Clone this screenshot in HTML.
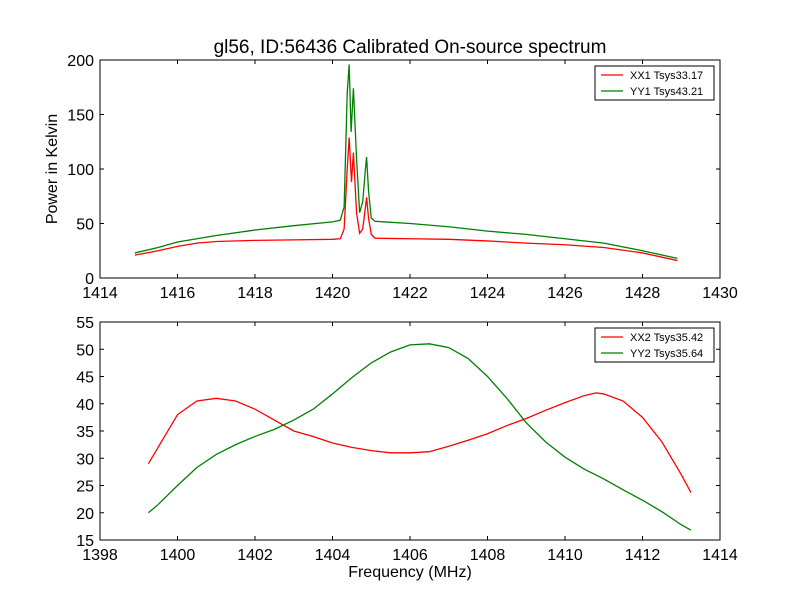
<!DOCTYPE html>
<html><head><meta charset="utf-8"><style>
body{margin:0;background:#fff}
svg text{font-family:"Liberation Sans","DejaVu Sans",sans-serif;fill:#000}
</style></head><body>
<svg id="c" width="800" height="600" xmlns="http://www.w3.org/2000/svg">
<rect width="800" height="600" fill="#fff"/>
<text x="410" y="53" font-size="19" text-anchor="middle">gl56, ID:56436 Calibrated On-source spectrum</text>
<text transform="translate(57,169) rotate(-90)" font-size="16" text-anchor="middle">Power in Kelvin</text>
<text x="410" y="577" font-size="16" text-anchor="middle">Frequency (MHz)</text>
</svg>
<script>
const topXX = [1414.9,1415.5,1416,1416.5,1417,1418,1419,1420,1420.2,1420.3,1420.38,1420.43,1420.49,1420.54,1420.62,1420.7,1420.78,1420.85,1420.88,1420.93,1421,1421.1,1422,1423,1424,1425,1426,1427,1428,1428.9];
const topXXVals = [21,25,29,32,33.5,34.5,35,35.5,36,45,100,129,88,115,60,41,45,65,74,55,40,36.5,36,35.5,34,32,30.5,28,23,16];
const topYY = [1414.9,1415.5,1416,1417,1418,1419,1420,1420.2,1420.3,1420.38,1420.43,1420.48,1420.54,1420.62,1420.7,1420.78,1420.85,1420.88,1420.93,1421,1421.1,1422,1423,1424,1425,1426,1427,1428,1428.9];
const topYYVals = [23,28,33,39,44,48,51.5,53,65,170,196,134,174,110,60,70,100,111,80,55,52,50,47,43,40,36,32,25,18];
const botXX = [1399.25,1399.5,1400,1400.5,1401,1401.5,1402,1402.5,1403,1403.5,1404,1404.5,1405,1405.5,1406,1406.5,1407,1407.5,1408,1408.5,1409,1409.5,1410,1410.5,1410.8,1411,1411.5,1412,1412.5,1413,1413.25];
const botXXVals = [29,32,38,40.5,41,40.5,39,37,35,34,32.8,32,31.4,31,31,31.2,32.2,33.3,34.5,36,37.3,38.8,40.2,41.5,42,41.8,40.5,37.5,33,27,23.7];
const botYY = [1399.25,1399.5,1400,1400.5,1401,1401.5,1402,1402.5,1403,1403.5,1404,1404.5,1405,1405.5,1406,1406.5,1407,1407.5,1408,1408.5,1409,1409.5,1410,1410.5,1411,1411.5,1412,1412.5,1413,1413.25];
const botYYVals = [20,21.5,25,28.3,30.7,32.5,34,35.3,37,39,41.8,44.8,47.5,49.5,50.8,51,50.3,48.3,45,41,36.5,33,30.2,28,26.2,24.2,22.3,20.2,17.8,16.8];
const topXTicks = [1414,1416,1418,1420,1422,1424,1426,1428,1430];
const topYTicks = [0,50,100,150,200];
const botXTicks = [1398,1400,1402,1404,1406,1408,1410,1412,1414];
const botYTicks = [15,20,25,30,35,40,45,50,55];
const legendTop = ["XX1 Tsys33.17","YY1 Tsys43.21"];
const legendBot = ["XX2 Tsys35.42","YY2 Tsys35.64"];

const NS="http://www.w3.org/2000/svg", svg=document.getElementById('c');
function mk(t,a,p){const e=document.createElementNS(NS,t);for(const k in a)e.setAttribute(k,a[k]);(p||svg).appendChild(e);return e;}
function panel(name,L,T,R,B,x0,x1,y0,y1,xt,yt,series,legend){
  const g=mk('g',{});
  
  
  const sx=v=>L+(v-x0)/(x1-x0)*(R-L), sy=v=>B-(v-y0)/(y1-y0)*(B-T);
  const cols=['#ff0000','#008000'];
  series.forEach((s,i)=>{
    const p=mk('polyline',{points:s[0].map((x,j)=>sx(x)+','+sy(s[1][j])).join(' '),fill:'none',stroke:cols[i],'stroke-width':1.3},g);
    
    
  });
  const fr=mk('rect',{x:L,y:T,width:R-L,height:B-T,fill:'none',stroke:'#000','stroke-width':1},g);
  
  
  xt.forEach(v=>{const x=sx(v);mk('line',{x1:x,x2:x,y1:B,y2:B-4,stroke:'#000'},g);mk('line',{x1:x,x2:x,y1:T,y2:T+4,stroke:'#000'},g);
    const t=mk('text',{x:x,y:B+20,'font-size':16,'text-anchor':'middle'},g);t.textContent=v;
    
    });
  yt.forEach(v=>{const y=sy(v);mk('line',{x1:L,x2:L+4,y1:y,y2:y,stroke:'#000'},g);mk('line',{x1:R,x2:R-4,y1:y,y2:y,stroke:'#000'},g);
    const t=mk('text',{x:L-6,y:y+6,'font-size':16,'text-anchor':'end'},g);t.textContent=v;
    
    });
  const lg=mk('g',{},g);
  
  
  mk('rect',{x:595,y:T+6,width:119,height:34,fill:'#fff',stroke:'#000'},lg);
  legend.forEach((s,i)=>{const y=T+15+i*16;
    mk('line',{x1:601,x2:623,y1:y,y2:y,stroke:cols[i],'stroke-width':1.3},lg);
    const t=mk('text',{x:630,y:y+4,'font-size':11},lg);t.textContent=s;
    
    });
}
panel('top-panel',100,60,720,278,1414,1430,0,200,topXTicks,topYTicks,[[topXX,topXXVals],[topYY,topYYVals]],legendTop);
panel('bottom-panel',100,322,720,540,1398,1414,15,55,botXTicks,botYTicks,[[botXX,botXXVals],[botYY,botYYVals]],legendBot);
</script>
</body></html>
